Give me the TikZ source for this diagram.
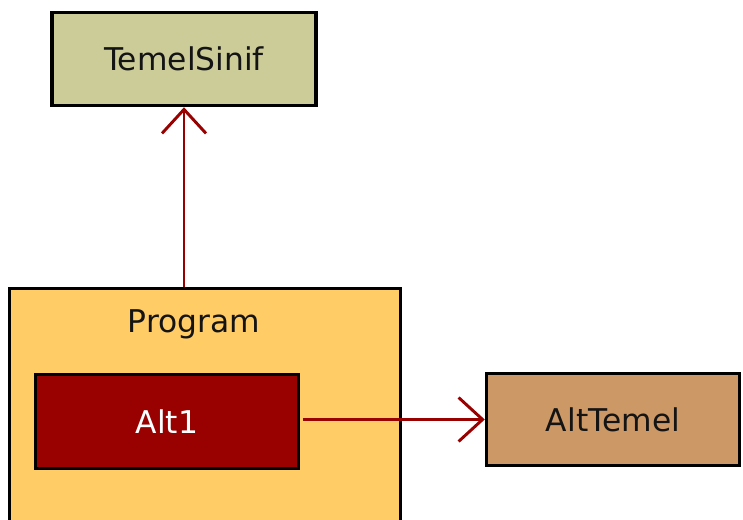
\documentclass[tikz,border=0pt]{standalone}
\usepackage{fontspec}
\setmainfont{DejaVu Sans}
\usetikzlibrary{positioning, arrows.meta}
\definecolor{olivebox}{HTML}{CCCC99}
\definecolor{progfill}{HTML}{FFCC66}
\definecolor{darkred}{HTML}{990000}
\definecolor{tanbox}{HTML}{CC9966}
\definecolor{ink}{HTML}{141414}
\tikzset{
  classbox/.style={draw=black, line width=2.6pt, align=center, inner sep=0pt,
                   text=ink, font=\fontsize{23.5}{27}\selectfont},
  basebox/.style={classbox, fill=olivebox},
  progbox/.style={classbox, fill=progfill},
  altbox/.style={classbox, fill=darkred, text=white},
  derivbox/.style={classbox, fill=tanbox},
  lbl/.style={text=ink, inner sep=0pt, font=\fontsize{23.5}{27}\selectfont},
  arr/.style={-{Straight Barb[length=18pt, width=33pt]}, draw=darkred, line width=2.2pt},
}

\begin{document}
\begin{tikzpicture}[x=0.75pt, y=-0.75pt]
  \useasboundingbox (0,0) rectangle (743,520);
  \clip (0,0) rectangle (743,520);
  \node[basebox, minimum width=198pt, minimum height=69.75pt] (base) at (184,59) {TemelSinif};
  \node[progbox, minimum width=293.25pt, minimum height=210pt] (prog) at (205,428.5) {};
  \node[lbl, anchor=base] (progname) at (194,333) {Program};
  \node[altbox, minimum width=197.25pt, minimum height=70.5pt] (alt1) at (167,421.5) {Alt1};
  \node[derivbox, minimum width=189.75pt, minimum height=69pt] (alttemel) at (613,419.5) {AltTemel};
  \draw[arr] (base.south |- prog.north) -- (base.south);
  \draw[arr, shorten <=2pt] (alt1.east |- alttemel.west) -- (alttemel.west);
\end{tikzpicture}
\end{document}
